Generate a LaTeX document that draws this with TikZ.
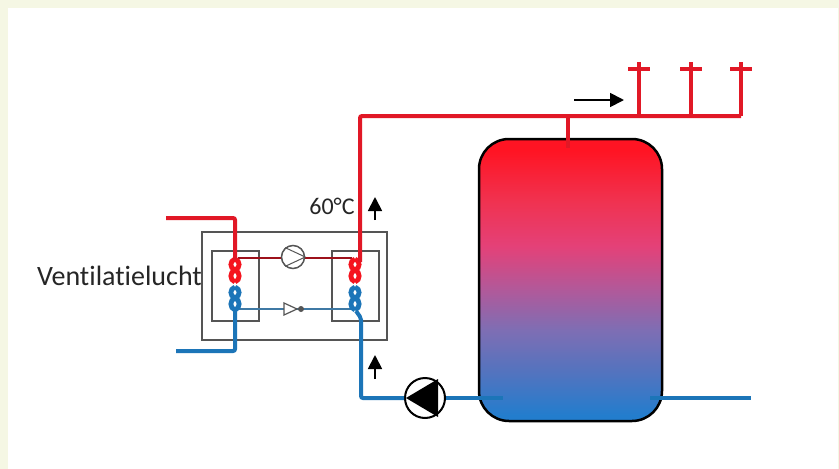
\documentclass[tikz,border=0pt]{standalone}
\usepackage{fontspec}
\setmainfont{Carlito}
\usetikzlibrary{arrows.meta}
\usetikzlibrary{calc}
\definecolor{page_bg}{RGB}{245,247,228}
\definecolor{hot_red}{RGB}{225,24,38}
\definecolor{coil_red}{RGB}{245,20,30}
\definecolor{cold_blue}{RGB}{28,117,184}
\definecolor{box_grey}{RGB}{85,85,85}
\definecolor{tank_a}{RGB}{35,125,205}
\definecolor{tank_b}{RGB}{85,115,190}
\definecolor{tank_c}{RGB}{125,110,180}
\definecolor{tank_d}{RGB}{175,90,155}
\definecolor{tank_e}{RGB}{228,65,120}
\definecolor{tank_f}{RGB}{240,50,80}
\definecolor{tank_g}{RGB}{255,20,35}
\pgfdeclareverticalshading{tank_shade}{100bp}{
  color(0bp)=(tank_a);
  color(26bp)=(tank_a);
  color(34bp)=(tank_b);
  color(41bp)=(tank_c);
  color(48bp)=(tank_d);
  color(56bp)=(tank_e);
  color(64bp)=(tank_f);
  color(73bp)=(tank_g);
  color(100bp)=(tank_g)}

\begin{document}
\begin{tikzpicture}[x=1pt,y=-1pt]

\tikzstyle{hot}=[draw=hot_red, line width=4pt, rounded corners=2pt]
\tikzstyle{cold}=[draw=cold_blue, line width=4pt, rounded corners=2pt]
\tikzstyle{strand}=[line width=4.8pt]
\tikzstyle{housing}=[draw=box_grey, line width=1.6pt, inner sep=0pt]
\tikzstyle{thin_hot}=[draw=hot_red!70!black, line width=1.2pt]
\tikzstyle{thin_cold}=[draw=cold_blue!65!gray, line width=1.2pt]
\tikzstyle{flow}=[draw=black, line width=1.8pt, -{Triangle[length=14pt,width=14pt]}]
\tikzstyle{tap}=[hot, rounded corners=0pt, line width=3.5pt]
\tikzstyle{label}=[font=\fontsize{28}{30}\selectfont, text=black!85, inner sep=0pt]

% page
\path[fill=page_bg] (0,0) rectangle (839,469);
\path[fill=white] (8,8) rectangle (838,469);
\useasboundingbox (0,0) rectangle (839,469);

% housing of the heat pump
\node[housing, minimum width=185pt, minimum height=108pt] (unit) at (294.5,286) {};
\node[housing, minimum width=47pt, minimum height=70pt] (evaporator) at (235.5,286) {};
\node[housing, minimum width=47pt, minimum height=70pt] (condenser) at (355.5,286) {};

% tank
\node[draw=black, line width=2.5pt, shade, shading=tank_shade, rounded corners=30pt,
  minimum width=183pt, minimum height=282pt] (tank) at (570.5,280) {};

% circuit inside the unit
\coordinate (evap_top) at (238,258);
\coordinate (evap_bottom) at (238,309);
\coordinate (cond_top) at (352,258);
\coordinate (cond_bottom) at (352,309);
\draw[thin_hot] (evap_top) -- (cond_top);
\draw[thin_cold] (evap_bottom) -- (cond_bottom);

\node[draw=box_grey, line width=1.5pt, fill=white, circle, minimum size=23pt, inner sep=0pt] (compressor) at (293,257) {};
\draw[box_grey, line width=1pt] (compressor.130) -- (compressor.east);
\draw[box_grey, line width=1pt] (compressor.230) -- (compressor.east);
\coordinate (valve_base) at (284,309);
\draw[box_grey, line width=1.2pt, fill=white] ($(valve_base)+(0,-6)$) -- ++(13,6) -- ++(-13,6) -- cycle;
\node[fill=box_grey, circle, minimum size=6pt, inner sep=0pt] (valve_head) at (301,309) {};

% coils
\foreach \cx in {235,355} {
  \foreach \sgn in {1,-1} {
    \draw[coil_red, strand] (\cx,259) .. controls +(\sgn*5.5,2) and +(\sgn*5.5,-2) .. (\cx,270)
      .. controls +(-\sgn*5.5,2) and +(-\sgn*5.5,-2) .. (\cx,282);
    \draw[cold_blue, strand] (\cx,287) .. controls +(\sgn*5.5,2) and +(\sgn*5.5,-2) .. (\cx,298)
      .. controls +(-\sgn*5.5,2) and +(-\sgn*5.5,-2) .. (\cx,310);
  }
}

% pump
\coordinate (pipe_out) at (503,398);
\coordinate (pipe_corner) at (361,398);
\node[draw=black, line width=2pt, fill=white, circle, minimum size=40pt, inner sep=0pt] (pump) at (425,398) {};

% pipes
\coordinate (air_in) at (166,218);
\coordinate (air_in_down) at (235,260);
\coordinate (air_out) at (176,351);
\coordinate (air_out_up) at (235,309);
\coordinate (hot_up) at (360,262);
\coordinate (cold_up) at (356,311);
\coordinate (cold_bend) at (361,318);
\coordinate (main_end) at (741,116);
\coordinate (tee) at (568,116);
\coordinate (tee_end) at (568,148);
\coordinate (tank_out) at (650,398);
\coordinate (tank_out_end) at (751,398);

\path[hot] (air_in) -| (air_in_down);
\path[cold] (air_out) -| (air_out_up);
\path[hot] (hot_up) |- (main_end);
\path[tap] (tee) -- (tee_end);
\path[cold] (cold_up) -- (cold_bend) -- (pipe_corner) -- (pump);
\path[cold] (pump) -- (pipe_out);
\path[cold, line width=3.5pt] (tank_out) -- (tank_out_end);

\fill[black] (406,398) -- (438,379) -- (438,417) -- cycle;

% taps
\coordinate (tap_a) at (639,116);
\coordinate (tap_b) at (691,116);
\coordinate (tap_c) at (741,116);
\foreach \tapname in {tap_a,tap_b,tap_c} {
  \path[tap] (\tapname) -- ++(0,-54);
  \path[tap] ($(\tapname)+(-11,-47)$) -- ++(22,0);
}

% flow arrows
\coordinate (flow_a_start) at (574,100);
\coordinate (flow_a_end) at (624,100);
\coordinate (flow_b_start) at (375,220);
\coordinate (flow_b_end) at (375,197);
\coordinate (flow_c_start) at (375,379);
\coordinate (flow_c_end) at (375,355);
\path[flow] (flow_a_start) -- (flow_a_end);
\path[flow] (flow_b_start) -- (flow_b_end);
\path[flow] (flow_c_start) -- (flow_c_end);

% labels
\node[label, font=\fontsize{24}{26}\selectfont] (temp) at (332,206) {60°C};
\node[label] (ventilation) at (119.5,276) {\addfontfeature{Ligatures=NoCommon}Ventilatielucht};

\end{tikzpicture}
\end{document}
